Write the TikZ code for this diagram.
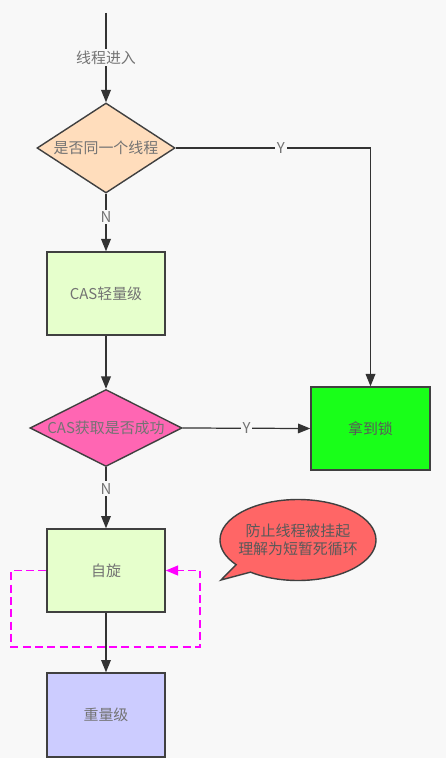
\documentclass[tikz,border=0pt]{standalone}
\usepackage{fontspec}
\setmainfont{Noto Sans CJK SC}
\usepackage{tikz}
\usetikzlibrary{shapes.geometric,shapes.callouts,arrows.meta}

\definecolor{bgc}{RGB}{248,248,248}
\definecolor{peach}{RGB}{255,221,188}
\definecolor{lightgr}{RGB}{230,255,204}
\definecolor{pinky}{RGB}{255,102,179}
\definecolor{lockgr}{RGB}{25,255,25}
\definecolor{lilac}{RGB}{204,204,255}
\definecolor{calred}{RGB}{255,102,102}
\definecolor{loopmag}{RGB}{255,0,255}

\begin{document}
\begin{tikzpicture}[font=\fontsize{8.5}{10.5}\selectfont,
	box/.style={draw=black!75,line width=0.8pt,minimum width=2.36cm,minimum height=1.66cm,text=black!55},
	choice/.style={diamond,draw=black!75,line width=0.8pt,inner sep=0pt,text=black!55},
	flow/.style={draw=black!80,line width=0.7pt,-{Triangle[width=5.5pt,length=7pt]}},
	yn/.style={fill=bgc,inner sep=1pt,text=black!55}]
				\useasboundingbox (0,0) rectangle (8.92,-15.16);
				\fill[bgc] (0,0) rectangle (8.92,-15.16);
				\coordinate (in) at (2.12,-0.26);
				\node[choice,fill=peach,minimum width=2.76cm,minimum height=1.8cm,shape aspect=1.5] (same) at (2.12,-2.96) {是否同一个线程};
				\node[box,fill=lightgr] (light) at (2.12,-5.87) {CAS轻量级};
				\node[choice,fill=pinky,minimum width=3.04cm,minimum height=1.54cm,shape aspect=2] (cas) at (2.12,-8.56) {CAS获取是否成功};
				\node[box,fill=lockgr,minimum width=2.38cm,text=black!65] (lock) at (7.41,-8.57) {拿到锁};
				\node[box,fill=lightgr] (spin) at (2.12,-11.41) {自旋};
				\node[box,fill=lilac,minimum height=1.68cm] (heavy) at (2.12,-14.3) {重量级};
				\node[ellipse callout,draw=black!75,line width=0.8pt,fill=calred,
					minimum width=3.12cm,minimum height=1.62cm,callout absolute pointer={(4.42,-11.6)},
					label={[align=center,text=black!65]center:防止线程被挂起\\理解为短暂死循环}] (note) at (5.96,-10.8) {};
				\draw[flow] (in) -- node[yn]{线程进入} (same);
				\draw[flow] (same.east) -| node[yn,pos=0.27]{Y} (lock.north);
				\draw[flow] (same) -- node[yn,pos=0.4]{N} (light);
				\draw[flow] (light) -- (cas);
				\draw[flow] (cas.east) -- node[yn]{Y} (lock.west);
				\draw[flow] (cas) -- node[yn,pos=0.35]{N} (spin);
				\draw[flow] (spin) -- (heavy);
				\draw[loopmag,line width=1.1pt,dash pattern=on 4.5pt off 2.5pt,-{Triangle[width=5.5pt,length=7pt]}]
					(spin.west) -- ++(-0.7,0) -- ++(0,-1.53) -- ++(3.78,0) -- ++(0,1.53) -- (spin.east);
			\end{tikzpicture}
\end{document}
